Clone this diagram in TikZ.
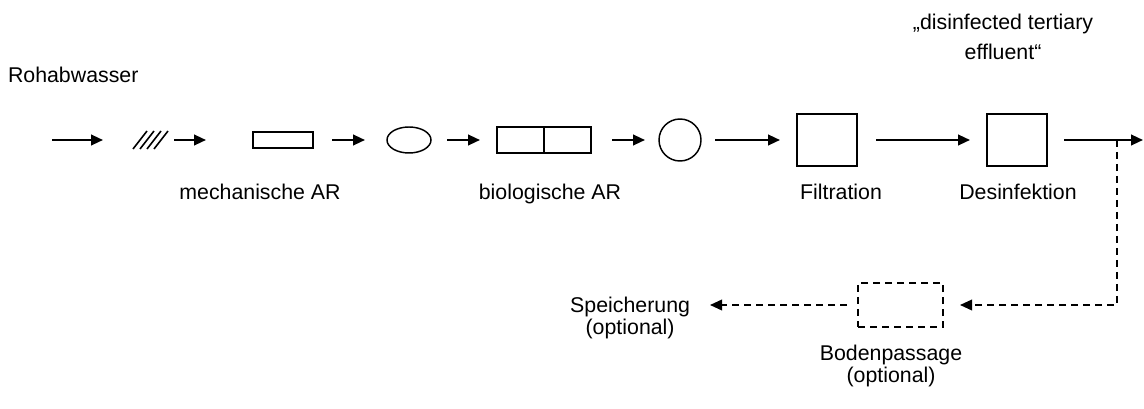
\documentclass[tikz,border=0pt]{standalone}
\usepackage{fontspec}
\setmainfont{Liberation Sans}
\usetikzlibrary{arrows.meta,shapes.geometric}
\begin{document}
\begin{tikzpicture}[x=0.75pt,y=-0.75pt,
  every node/.style={inner sep=0pt,outer sep=0pt},
  txt/.style={font=\fontsize{16}{16.5}\selectfont},
  flow/.style={line width=1.6pt,-{Triangle[length=9pt,width=8pt]}},
  opt/.style={line width=1.2pt,dash pattern=on 5pt off 4pt,-{Triangle[length=9pt,width=8pt]}},
  unit/.style={draw,line width=1.1pt},
  optunit/.style={draw,line width=1.1pt,dash pattern=on 5pt off 4pt}]
\useasboundingbox (0,0) rectangle (1144,409);

% treatment units along the main line
\node[minimum width=26.25pt,minimum height=13.5pt] (screen) at (150.5,140) {};
\foreach \i in {0,...,3}
  \draw[line width=1.2pt] ([xshift=\i*5.25pt]screen.south west) -- ++(14,-18);
\node[unit,minimum width=45pt,minimum height=12pt] (grit) at (283,140) {};
\node[unit,ellipse,minimum width=33pt,minimum height=19.5pt] (prim) at (409,140) {};
\node[unit,minimum width=70.5pt,minimum height=19.5pt] (bio) at (544,140) {};
\draw[line width=1.1pt] (bio.north) -- (bio.south);
\node[unit,circle,minimum size=31.5pt] (clar) at (680,140) {};
\node[unit,minimum width=45pt,minimum height=39pt] (filt) at (827,140) {};
\node[unit,minimum width=45pt,minimum height=39pt] (des) at (1017,140) {};
\node[optunit,minimum width=63.75pt,minimum height=33pt] (soil) at (900.5,305) {};

\coordinate (in) at (52,140);
\coordinate (out) at (1143,140);
\coordinate (split) at (1117,140);

% labels
\node[txt,anchor=base west] (raw) at (8,83) {Rohabwasser};
\node[txt,anchor=base] (lmech) at (260,200) {mechanische AR};
\node[txt,anchor=base] (lbio) at (550,200) {biologische AR};
\node[txt,anchor=base] (lfilt) at (841,200) {Filtration};
\node[txt,anchor=base] (ldes) at (1018,200) {Desinfektion};
\node[font=\fontsize{16}{22.5}\selectfont,align=center,anchor=north] (eff) at (1003,14)
  {„disinfected tertiary\\effluent“};
\node[txt,align=center,anchor=north east] (store) at (690,297) {Speicherung\\(optional)};
\node[txt,align=center,anchor=north] (lsoil) at (891,345) {Bodenpassage\\(optional)};

% main flow
\draw[flow,shorten >=22.5pt] (in) -- (screen.west);
\draw[flow,shorten <=4.5pt,shorten >=35.25pt] (screen.east) -- (grit.west);
\draw[flow,shorten <=14.25pt,shorten >=16.5pt] (grit.east) -- (prim.west);
\draw[flow,shorten <=12pt,shorten >=12.75pt] (prim.east) -- (bio.west);
\draw[flow,shorten <=15.75pt,shorten >=10.5pt] (bio.east) -- (clar.west);
\draw[flow,shorten <=10.5pt,shorten >=12.75pt] (clar.east) -- (filt.west);
\draw[flow,shorten <=14.25pt,shorten >=12.75pt] (filt.east) -- (des.west);
\draw[flow,shorten <=12.75pt] (des.east) -- (out);

% optional branch
\draw[opt,shorten >=12.75pt] (split) |- (soil.east);
\draw[opt,shorten <=8.25pt,shorten >=15pt] (soil.west) -- (soil.west -| store.east);
\end{tikzpicture}
\end{document}
